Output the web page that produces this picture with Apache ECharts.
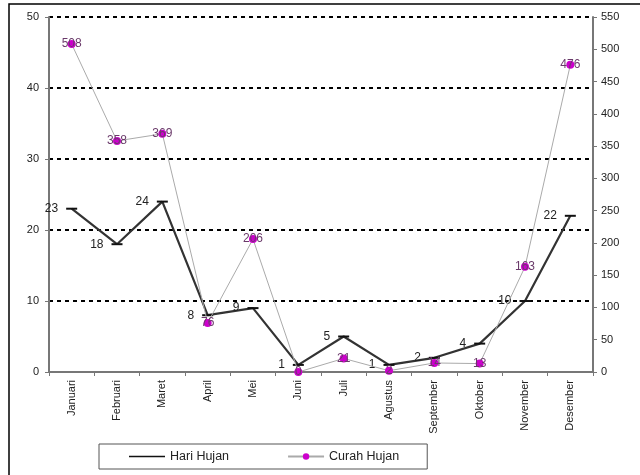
<!DOCTYPE html>
<html><head><meta charset="utf-8">
<script src="https://cdn.jsdelivr.net/npm/echarts@6/dist/echarts.min.js"></script>
<style>html,body{margin:0;padding:0;background:#fff}#c{width:640px;height:475px}</style>
</head><body><div id="c"></div>
<script>
var categories = ['Januari','Februari','Maret','April','Mei','Juni','Juli','Agustus','September','Oktober','November','Desember'];
var hariHujan = [23, 18, 24, 8, 9, 1, 5, 1, 2, 4, 10, 22];
var curahHujan = [508, 358, 369, 76, 206, 0, 21, 2, 14, 13, 163, 476];
var leftTicks = [0, 10, 20, 30, 40, 50];
var rightTicks = [0, 50, 100, 150, 200, 250, 300, 350, 400, 450, 500, 550];

var chart = echarts.init(document.getElementById('c'));
var font = 'Liberation Sans, Arial, sans-serif';
chart.setOption({
  animation: false,
  graphic: [{type:'rect', shape:{x:9,y:4,width:700,height:600}, style:{fill:'none', stroke:'#000', lineWidth:1.5}, z:-1}],
  grid: {left: 49, right: 47, top: 17, bottom: 103},
  legend: {
    bottom: 6, left: 99,
    itemGap: 58, itemWidth: 36, itemHeight: 8, symbolKeepAspect: true,
    borderColor: '#555', borderWidth: 1, padding: [6, 28, 6, 30],
    textStyle: {fontFamily: font, fontSize: 12.5, color: '#222'},
    data: [{name: 'Hari Hujan', icon: 'path://M0,0H36V1.6H0Z'}, 'Curah Hujan']
  },
  xAxis: {
    type: 'category', data: categories, boundaryGap: true,
    axisLine: {lineStyle: {color: '#777', width: 2}},
    axisTick: {show: true, length: 4, lineStyle: {color: '#777'}},
    axisLabel: {rotate: 90, fontFamily: font, fontSize: 11, color: '#222', margin: 8}
  },
  yAxis: [{
    type: 'value', min: 0, max: 50, interval: 10,
    axisLine: {show: true, lineStyle: {color: '#777', width: 2}},
    axisTick: {show: true, length: 4, lineStyle: {color: '#777'}},
    axisLabel: {fontFamily: font, fontSize: 11, color: '#222', margin: 10},
    splitLine: {show: true, lineStyle: {color: '#000', width: 2, type: [4, 4]}}
  }, {
    type: 'value', min: 0, max: 550, interval: 50, position: 'right',
    axisLine: {show: true, lineStyle: {color: '#777', width: 2}},
    axisTick: {show: true, length: 4, inside: false, lineStyle: {color: '#777'}},
    axisLabel: {fontFamily: font, fontSize: 11, color: '#222', margin: 8},
    splitLine: {show: false}
  }],
  series: [{
    name: 'Hari Hujan', type: 'line', yAxisIndex: 0, data: hariHujan,
    lineStyle: {color: '#333', width: 2.2}, itemStyle: {color: '#111'},
    symbol: 'rect', symbolSize: [11, 2], z: 3,
    label: {show: true, position: 'left', distance: 8, fontFamily: font, fontSize: 12, color: '#222'}
  }, {
    name: 'Curah Hujan', type: 'line', yAxisIndex: 1, data: curahHujan,
    lineStyle: {color: '#aaa', width: 1}, itemStyle: {color: '#cc00cc'},
    symbol: 'circle', symbolSize: 8, z: 4,
    label: {show: true, position: 'inside', fontFamily: font, fontSize: 12, color: '#6a3a6a'}
  }]
});
</script></body></html>
